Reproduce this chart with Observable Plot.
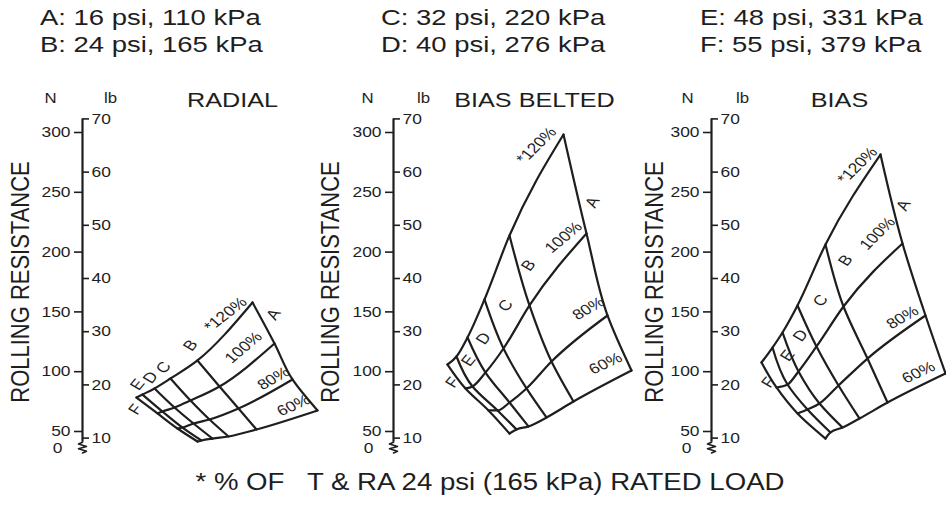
<!DOCTYPE html>
<html><head><meta charset="utf-8">
<script src="https://cdn.jsdelivr.net/npm/d3@7"></script>
<script src="https://cdn.jsdelivr.net/npm/@observablehq/plot@0.6"></script>
<style>
html,body{margin:0;padding:0;background:#fff;}
#root{position:relative;width:946px;height:506px;overflow:hidden;font-family:"Liberation Sans",Arial,sans-serif;color:#1e1e1e;background:#fff;}
.leg{position:absolute;font-size:22.5px;line-height:27px;transform:scaleX(1.22);transform-origin:0 0;white-space:pre;}
#row{position:absolute;left:0;top:68px;display:flex;}
#cap{position:absolute;top:467px;left:17px;width:946px;text-align:center;font-size:23px;line-height:30px;transform:scaleX(1.2);transform-origin:50% 0;white-space:pre;}
</style>
</head><body><div id="root"><div id="row"></div><div id="cap"></div></div>
<script>
// ---------- data ----------
const pressures = ["A","B","C","D","E","F"];
const pressurePsi = [16,24,32,40,48,55];
const pressureKPa = [110,165,220,276,331,379];
const loads = [120,100,80,60]; // % of T & RA rated load
const nTicks = [50,100,150,200,250,300];
const lbTicks = [10,20,30,40,50,60,70];
const LB_TO_N = 4.448;
const caption = "* % OF   T & RA 24 psi (165 kPa) RATED LOAD";

// rolling resistance (N), rows = pressure A..F, cols = load 120,100,80,60
const radialN = [[157.9,123.6,93.5,67.6],[109.4,87.6,69.2,51.7],[94.3,75.9,60.0,45.8],[86.0,70.1,56.7,44.1],[80.9,66.7,53.3,42.5],[78.4,65.1,52.5,41.6]];
const beltedN = [[298.3,215.6,147.0,101.0],[213.9,155.4,108.5,75.1],[160.4,119.4,86.0,61.7],[128.6,99.3,74.2,54.2],[112.7,87.6,67.6,51.7],[106.0,86.0,67.6,48.3]];
const biasN   = [[281.6,207.2,147.0,98.5],[206.4,154.5,111.0,74.2],[155.4,121.1,88.5,60.9],[132.8,100.2,73.4,53.3],[120.2,89.3,68.4,49.2],[107.7,86.8,65.1,44.1]];
// carpet abscissa (arbitrary carpet shift), same layout
const radialShift = [[170,192,210,235],[115,137,156,174],[88,108,127,146],[72,92,111,130],[60,80,100,119],[54,75,95,115]];
const beltedShift = [[170,193,214,238],[116,136,158,180],[91,110,133,153],[74,92,116,135],[63,79,104,123],[54,72,95,116]];
const biasShift   = [[169,191,214,234],[114,132,156,176],[86,105,127,148],[71,87,108,131],[61,76,96,119],[50,65,86,114]];

// ---------- layout / style ----------
const INK = "#1e1e1e";
const SX = 1.2; // horizontal stretch of the reference artwork
const rot = a => Math.atan(SX * Math.tan(a * Math.PI / 180)) * 180 / Math.PI;
const panels = [
  {title: "RADIAL", width: 311, titleDx: 150, rdx: -62, nDx: -32, lbDx: 28, N: radialN, S: radialShift, labels: [
    ["*120%","A",120,-27,12,-38],["A","A",120,21,12,-55],["100%","A",100,-31,4,-40],["80%","A",80,-19,-1,-30],["60%","A",60,-24,-5,-25],
    ["B","B",120,-7,-15,-50],["C","C",120,-7,-11,-50],["D","D",120,-4,-11,-50],["E","E",120,-5,-10,-50],["F","F",120,-1,12,-50]]},
  {title: "BIAS BELTED", width: 318, titleDx: 141, rdx: -63, nDx: -26, lbDx: 30, N: beltedN, S: beltedShift, labels: [
    ["*120%","A",120,-27,11,-44],["A","A",100,6,-31,-60],["100%","A",100,-23,4,-40],["80%","A",80,-19,-7,-30],["60%","A",60,-26,-7,-25],
    ["B","B",120,19,30,-50],["C","C",120,21,6,-50],["D","D",120,16,1,-50],["E","E",120,12,4,-50],["F","F",120,5,18,-50]]},
  {title: "BIAS", width: 317, titleDx: 128, rdx: -57, nDx: -24, lbDx: 31, N: biasN, S: biasShift, labels: [
    ["*120%","A",120,-23,11,-44],["A","A",100,1,-38,-60],["100%","A",100,-25,-10,-45],["80%","A",80,-23,2,-30],["60%","A",60,-27,-1,-25],
    ["B","B",120,20,16,-50],["C","C",120,23,-5,-50],["D","D",120,18,3,-50],["E","E",120,15,8,-50],["F","F",120,7,20,-50]]}
];
const ML = 82, H = 390;

// legend
const root = document.getElementById("root");
const legCols = [40, 381, 700];
pressures.forEach((p, i) => {
  const d = document.createElement("div");
  d.className = "leg";
  d.style.left = legCols[Math.floor(i / 2)] + "px";
  d.style.top = (4 + (i % 2) * 27) + "px";
  d.textContent = `${p}: ${pressurePsi[i]} psi, ${pressureKPa[i]} kPa`;
  root.appendChild(d);
});
document.getElementById("cap").textContent = caption;

const row = document.getElementById("row");
for (const P of panels) {
  const nodes = [];
  pressures.forEach((p, i) => loads.forEach((l, j) => nodes.push({p, load: l, x: P.S[i][j], n: P.N[i][j]})));
  const byX = nodes.slice().sort((a, b) => a.x - b.x);
  const find = (p, l) => nodes.find(d => d.p === p && d.load === l);
  const labelMarks = P.labels.map(([t, p, l, dx, dy, a]) => {
    const nd = find(p, l);
    return Plot.text([nd], {x: "x", y: "n", text: () => t, dx, dy, rotate: rot(a), fontSize: 14.5, fill: INK});
  });
  const breakPts = [[0,41],[-4,39.5],[4,37.5],[-4,35.5],[4,33.5],[0,32]].map(([x, n]) => ({x, n}));
  const svg = Plot.plot({
    width: P.width, height: H,
    marginLeft: ML, marginRight: 0, marginTop: 0, marginBottom: 0,
    x: {domain: [0, P.width - ML], range: [ML, P.width], axis: null},
    y: {domain: [50, 300], range: [363, 64], axis: null},
    style: {fontFamily: "Liberation Sans, Arial, sans-serif", fontSize: "14px", background: "transparent", color: INK, overflow: "visible"},
    marks: [
      // axis
      Plot.ruleX([0], {y1: 41, y2: 70 * LB_TO_N, stroke: INK, strokeWidth: 2.2}),
      Plot.line(breakPts, {x: "x", y: "n", stroke: INK, strokeWidth: 1.6}),
      Plot.ruleY(nTicks, {y: d => d, x1: -8, x2: 0, stroke: INK, strokeWidth: 1.6}),
      Plot.ruleY(lbTicks, {y: d => d * LB_TO_N, x1: 0, x2: 7, stroke: INK, strokeWidth: 1.6}),
      Plot.text(nTicks, {y: d => d, x: 0, dx: -12, text: d => d, textAnchor: "end", fontSize: 14.5, fill: INK}),
      Plot.text(["0"], {y: () => 50, x: 0, dx: -20, dy: 17, text: d => d, textAnchor: "end", fontSize: 14.5, fill: INK}),
      Plot.text(lbTicks, {y: d => d * LB_TO_N, x: 0, dx: 9, text: d => d, textAnchor: "start", fontSize: 14.5, fill: INK}),
      Plot.text(["N"], {frameAnchor: "top-left", text: d => d, textAnchor: "middle", dx: P.nDx, dy: 25, fill: INK}),
      Plot.text(["lb"], {frameAnchor: "top-left", text: d => d, textAnchor: "middle", dx: P.lbDx, dy: 25, fill: INK}),
      Plot.text([P.title], {frameAnchor: "top-left", text: d => d, textAnchor: "middle", dx: P.titleDx, dy: 24, fontSize: 21, fill: INK}),
      Plot.text(["ROLLING RESISTANCE"], {x: 0, y: () => (nTicks[0] + nTicks[nTicks.length - 1]) / 2, text: d => d, dx: P.rdx, rotate: -90, fontSize: 22, fill: INK}),
      // carpet: constant-pressure lines (load 120 -> 60)
      Plot.line(nodes, {x: "x", y: "n", z: "p", curve: "monotone-y", stroke: INK, strokeWidth: 2.2}),
      // carpet: constant-load lines (F -> A)
      Plot.line(byX, {x: "x", y: "n", z: "load", curve: "monotone-x", stroke: INK, strokeWidth: 2.2}),
      ...labelMarks
    ]
  });
  svg.querySelectorAll("text").forEach(t => {
    const tr = t.getAttribute("transform") || "";
    if (tr.includes("rotate(")) t.setAttribute("transform", tr.replace("rotate(", `scale(${SX},1) rotate(`));
    else t.setAttribute("transform", tr + ` scale(${SX},1)`);
  });
  svg.style.display = "block";
  row.appendChild(svg);
}
</script>
</body></html>
